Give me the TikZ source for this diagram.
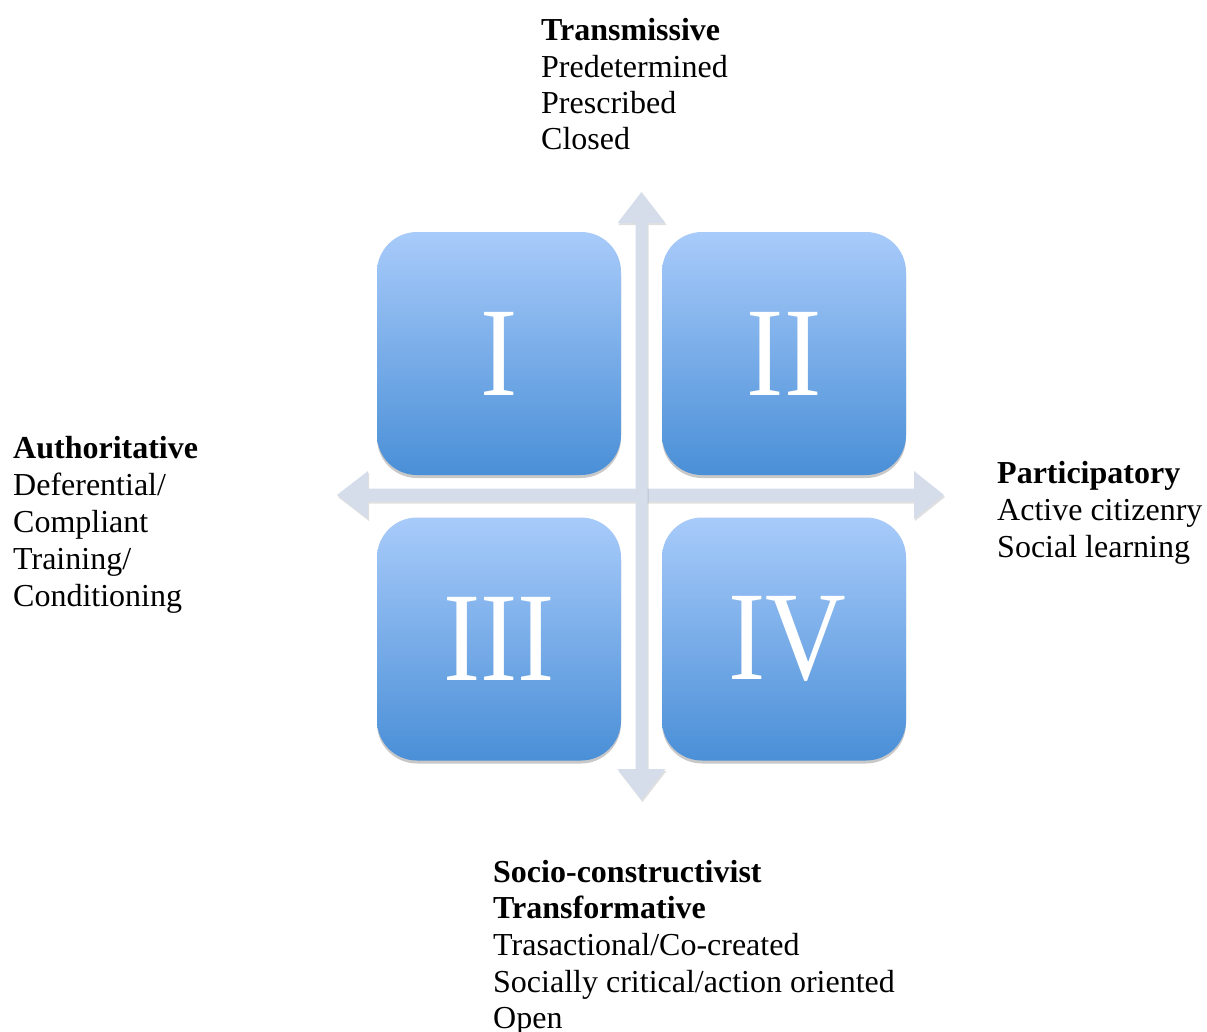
\documentclass[tikz,border=0pt]{standalone}
\usepackage{fontspec}
\setmainfont{Liberation Serif}
\usetikzlibrary{shadows}
\definecolor{boxtop}{HTML}{A8CBFA}
\definecolor{boxbot}{HTML}{4A8FD7}
\definecolor{axisc}{HTML}{D5DDEA}
\tikzset{
  quad/.style={minimum width=244pt, minimum height=243pt, rounded corners=40pt,
    top color=boxtop, bottom color=boxbot, draw=none, inner sep=0pt,
    text=white, font=\fontsize{127}{127}\selectfont,
    drop shadow={shadow xshift=0pt, shadow yshift=-3pt, opacity=0.3, fill=black!70}},
  axisarrow/.style={fill=axisc, draw=none,
    drop shadow={shadow xshift=1pt, shadow yshift=-2pt, opacity=0.2, fill=black!60}},
  lbl/.style={anchor=base west, inner sep=0pt, font=\fontsize{32}{37}\selectfont},
  lblb/.style={lbl, font=\fontsize{32}{37}\selectfont\bfseries}
}
\begin{document}
\begin{tikzpicture}[x=1pt, y=-1pt]
\useasboundingbox[fill=white] (0,0) rectangle (1207,1031);

% axes
\coordinate (Ltip) at (337,495);
\coordinate (Rtip) at (944,495);
\coordinate (Ttip) at (641.5,192);
\coordinate (Btip) at (641.5,800);
\fill[axisarrow] (Ltip) -- (368,471) -- (368,488.5) -- (914,488.5) -- (914,471) -- (Rtip)
  -- (914,519) -- (914,501.5) -- (368,501.5) -- (368,519) -- cycle;
\fill[axisarrow] (Ttip) -- (665.5,223) -- (647.5,223) -- (647.5,769) -- (665.5,769) -- (Btip)
  -- (617.5,769) -- (635.5,769) -- (635.5,223) -- (617.5,223) -- cycle;

% quadrants
\node[quad] (q1) at (499,353.5) {\scalebox{0.88}[1]{I}};
\node[quad] (q2) at (784,353.5) {\scalebox{0.88}[1]{II}};
\node[quad] (q3) at (499,639) {\scalebox{0.88}[1]{III}};
\node[quad] (q4) at (784,639) {\hspace*{6pt}\scalebox{0.88}[1]{IV}};

% top labels
\node[lblb] (t1) at (541,40) {Transmissive};
\node[lbl] (t2) at (541,77) {Predetermined};
\node[lbl] (t3) at (541,113) {Prescribed};
\node[lbl] (t4) at (541,149) {Closed};

% left labels
\node[lblb] (l1) at (13,458) {Authoritative};
\node[lbl] (l2) at (13,495) {Deferential/};
\node[lbl] (l3) at (13,532) {Compliant};
\node[lbl] (l4) at (13,569) {Training/};
\node[lbl] (l5) at (13,606) {Conditioning};

% right labels
\node[lblb] (r1) at (997,483) {Participatory};
\node[lbl] (r2) at (997,520) {Active citizenry};
\node[lbl] (r3) at (997,557) {Social learning};

% bottom labels
\node[lblb] (s1) at (493,882) {Socio-constructivist};
\node[lblb] (s2) at (493,918) {Transformative};
\node[lbl] (s3) at (493,955) {Trasactional/Co-created};
\node[lbl] (s4) at (493,992) {Socially critical/action oriented};
\node[lbl] (s5) at (493,1028) {Open};
\end{tikzpicture}
\end{document}
